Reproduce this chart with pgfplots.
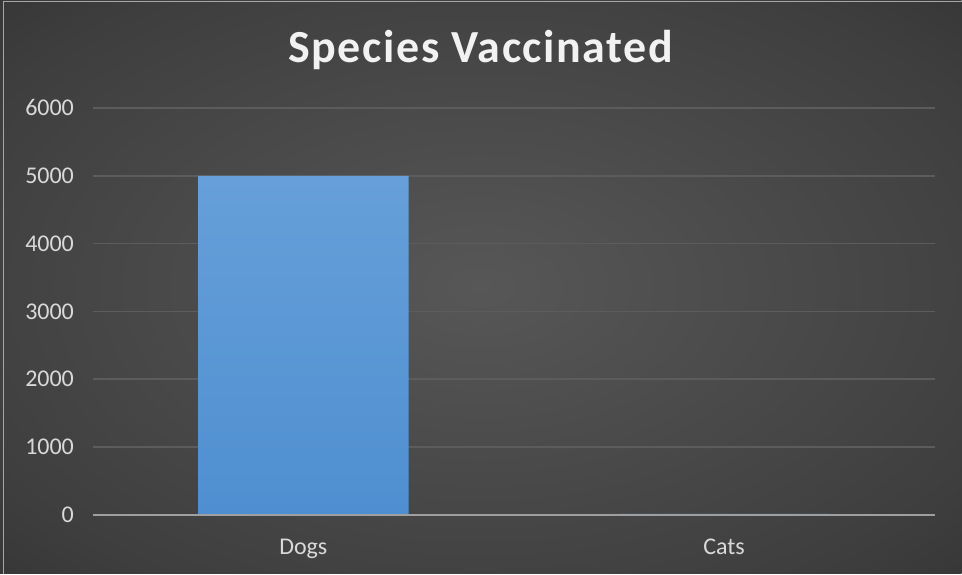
\documentclass[border=0pt]{standalone}
\usepackage{pgfplots}
\pgfplotsset{compat=1.18}
\usepackage{fontspec}
\setmainfont{Carlito}
\definecolor{bgin}{HTML}{575757}
\definecolor{bgmid}{HTML}{3E3E3E}
\definecolor{bgout}{HTML}{262626}
\definecolor{bartop}{HTML}{72A8DE}
\definecolor{barbot}{HTML}{4386CC}
\definecolor{ticktext}{HTML}{D9D9D9}
\definecolor{gridc}{HTML}{5C5C5C}
\pgfdeclareradialshading{bgshade}{\pgfpoint{0bp}{0bp}}{color(0bp)=(bgin); color(30bp)=(bgmid); color(50bp)=(bgout)}
\pgfdeclareverticalshading{barshade}{100bp}{color(0bp)=(barbot); color(100bp)=(bartop)}
\pgfplotstableread{
x y
0 5000
1 12
}\datatable
\begin{document}
\begin{tikzpicture}
\shade[shading=bgshade] (0pt,0pt) rectangle (481pt,287pt);
\draw[color=gray!70, line width=0.5pt] (2pt,0pt) -- (2pt,286.25pt) -- (481pt,286.25pt);
\node[text=white!95!black, font=\bfseries\fontsize{23}{27}\selectfont\addfontfeatures{LetterSpace=3.5}] at (240.5pt,262pt) {Species Vaccinated};
\begin{axis}[
  at={(46.5pt,29.5pt)}, anchor=south west,
  scale only axis, width=421pt, height=203.5pt,
  xmin=-0.5, xmax=1.5, ymin=0, ymax=6000,
  ytick={0,1000,...,6000},
  xtick=data, xticklabels={Dogs,Cats},
  ymajorgrids, grid style={gridc, line width=0.8pt},
  major tick length=0pt,
  axis line style={draw=none},
  tick label style={text=ticktext, font=\fontsize{12}{14}\selectfont},
  /pgf/number format/assume math mode=true,
  /pgf/number format/1000 sep={},
  yticklabel style={xshift=-6pt},
  xticklabel style={yshift=-8.5pt},
  clip=false,
]
\addplot[ybar, bar width=0.5, draw=none, shading=barshade] table[x=x,y=y] {\datatable};
\draw[color=gray!75!white, line width=1pt] (axis cs:-0.5,0) -- (axis cs:1.5,0);
\end{axis}
\end{tikzpicture}
\end{document}
